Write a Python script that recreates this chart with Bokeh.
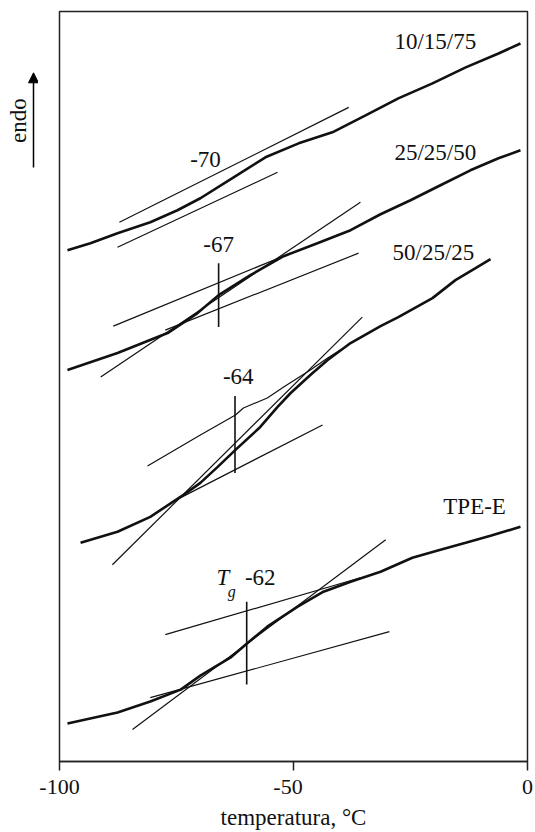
import math
from bokeh.plotting import figure
from bokeh.layouts import row
from bokeh.models import Label, Arrow, NormalHead, FixedTicker, Range1d
from bokeh.core.properties import value
from bokeh.embed import file_html
from bokeh.resources import INLINE

# ---- data: temperature (°C) vs heat flow (arb. units, endo up) ----
t_10_15_75 = [-98.3, -93.4, -87.6, -80.6, -74.8, -69.9, -62.8, -56.0, -48.9, -41.7, -34.6, -27.6, -20.3, -13.2, -6.2, -1.5]
h_10_15_75 = [51.2, 51.9, 52.9, 54.0, 55.2, 56.4, 58.5, 60.5, 61.9, 63.0, 64.7, 66.4, 67.9, 69.5, 70.9, 71.9]

t_25_25_50 = [-98.3, -87.6, -76.9, -70.5, -66.0, -59.2, -52.1, -44.9, -37.8, -31.4, -25.0, -18.6, -12.2, -6.2, -1.5]
h_25_25_50 = [39.2, 40.9, 42.9, 44.9, 46.7, 48.7, 50.6, 51.9, 53.2, 54.8, 56.2, 57.7, 59.2, 60.4, 61.2]

t_50_25_25 = [-95.5, -87.6, -80.6, -73.5, -69.9, -66.2, -62.4, -57.1, -53.4, -50.6, -46.4, -42.7, -37.8, -31.4, -27.6, -20.3, -15.4, -11.1, -7.9]
h_50_25_25 = [21.9, 23.0, 24.5, 26.7, 27.9, 29.5, 31.2, 33.5, 35.5, 36.9, 38.7, 40.2, 41.9, 43.6, 44.5, 46.4, 48.2, 49.4, 50.3]

t_tpe_e = [-98.3, -87.6, -80.6, -74.1, -69.9, -63.5, -60.0, -55.6, -49.1, -43.6, -37.8, -31.4, -24.6, -18.6, -13.2, -7.9, -1.5]
h_tpe_e = [3.8, 4.9, 6.0, 7.2, 8.6, 10.4, 11.8, 13.5, 15.5, 17.0, 18.0, 19.0, 20.4, 21.2, 21.9, 22.6, 23.5]

# tangent / baseline construction lines (start, end)
tan_10_15_75_a_t = [-87.2, -38.2]
tan_10_15_75_a_h = [54.0, 65.5]
tan_10_15_75_b_t = [-87.6, -53.4]
tan_10_15_75_b_h = [51.5, 59.0]

tan_25_25_50_up_t = [-88.5, -50.6]
tan_25_25_50_up_h = [43.6, 50.9]
tan_25_25_50_st_t = [-91.2, -35.7]
tan_25_25_50_st_h = [38.5, 56.0]
tan_25_25_50_lo_t = [-77.4, -36.1]
tan_25_25_50_lo_h = [43.2, 50.9]

tan_50_25_25_up_t = [-81.2, -69.9, -62.4, -60.7, -55.6, -52.1, -46.4, -42.7, -40.0]
tan_50_25_25_up_h = [29.6, 32.7, 34.7, 35.4, 36.4, 37.5, 39.2, 40.4, 41.2]
tan_50_25_25_st_t = [-88.7, -35.3]
tan_50_25_25_st_h = [19.7, 44.5]
tan_50_25_25_lo_t = [-76.3, -43.8]
tan_50_25_25_lo_h = [25.9, 33.7]

tan_tpe_e_up_t = [-77.4, -35.7]
tan_tpe_e_up_h = [12.7, 18.4]
tan_tpe_e_st_t = [-84.4, -30.3]
tan_tpe_e_st_h = [3.2, 22.2]
tan_tpe_e_lo_t = [-80.6, -29.5]
tan_tpe_e_lo_h = [6.4, 13.0]

# Tg marker lines
tg_t = [-66.0, -62.5, -60.0]
tg_h0 = [43.5, 28.9, 7.7]
tg_h1 = [49.9, 36.6, 16.0]

x_ticks = [-100, -50, 0]
x_tick_labels = {-100: "-100", -50: "-50\u2002", 0: "0"}

FONT = "Liberation Serif"
INK = "#111111"
H = 832
SIDE_W = 38

# ---- main plot ----
p = figure(width=535 - SIDE_W, height=H, x_range=Range1d(-100, 0), y_range=Range1d(0, 75.1),
           output_backend="svg", toolbar_location=None,
           min_border_left=59 - SIDE_W, min_border_right=8, min_border_top=11,
           min_border_bottom=H - 11 - 751)
p.background_fill_color = "white"
p.border_fill_color = "white"
p.outline_line_color = "#222222"
p.outline_line_width = 1.5
p.xgrid.visible = False
p.ygrid.visible = False
p.yaxis.visible = False

ax = p.xaxis[0]
ax.ticker = FixedTicker(ticks=x_ticks)
ax.major_label_overrides = x_tick_labels
ax.axis_line_color = "#222222"
ax.axis_line_width = 1.5
ax.major_tick_in = 0
ax.major_tick_out = 9
ax.major_tick_line_width = 1.5
ax.major_tick_line_color = "#222222"
ax.minor_tick_out = 0
ax.minor_tick_in = 0
ax.major_label_text_font = FONT
ax.major_label_text_font_size = "22px"
ax.major_label_text_color = INK
ax.major_label_standoff = 3
ax.axis_label = "temperatura, °C"
ax.axis_label_text_font = FONT
ax.axis_label_text_font_size = "23px"
ax.axis_label_text_font_style = "normal"
ax.axis_label_text_color = INK
ax.axis_label_standoff = 3

for t, h in [(t_10_15_75, h_10_15_75), (t_25_25_50, h_25_25_50),
             (t_50_25_25, h_50_25_25), (t_tpe_e, h_tpe_e)]:
    p.line(t, h, line_color=INK, line_width=2.6)

for t, h in [(tan_10_15_75_a_t, tan_10_15_75_a_h), (tan_10_15_75_b_t, tan_10_15_75_b_h),
             (tan_25_25_50_up_t, tan_25_25_50_up_h), (tan_25_25_50_st_t, tan_25_25_50_st_h),
             (tan_25_25_50_lo_t, tan_25_25_50_lo_h),
             (tan_50_25_25_up_t, tan_50_25_25_up_h), (tan_50_25_25_st_t, tan_50_25_25_st_h),
             (tan_50_25_25_lo_t, tan_50_25_25_lo_h),
             (tan_tpe_e_up_t, tan_tpe_e_up_h), (tan_tpe_e_st_t, tan_tpe_e_st_h),
             (tan_tpe_e_lo_t, tan_tpe_e_lo_h)]:
    p.line(t, h, line_color=INK, line_width=1.2)

p.segment(x0=tg_t, y0=tg_h0, x1=tg_t, y1=tg_h1, line_color=INK, line_width=1.6)

def lab(text, x, y, size="23px", style="normal"):
    p.add_layout(Label(x=x, y=y, text=text, text_font=FONT, text_font_size=size,
                       text_font_style=style, text_color=INK, text_align="center",
                       text_baseline="middle"))

lab("10/15/75", -19.7, 72.1)
lab("25/25/50", -19.7, 61.0)
lab("50/25/25", -20.1, 51.0)
lab("TPE-E", -11.3, 25.5)
lab("-70", -68.8, 60.3)
lab("-67", -66.0, 51.8)
lab("-64", -61.8, 38.6)
lab("-62", -57.1, 18.4)
lab("T", -65.1, 18.4, style="italic")
lab("g", -63.2, 17.0, size="16px", style="italic")

# ---- left strip: "endo" caption with arrow (page pixel coordinates) ----
side = figure(width=SIDE_W, height=H, x_range=Range1d(0, SIDE_W), y_range=Range1d(H, 0),
              output_backend="svg", toolbar_location=None,
              min_border_left=0, min_border_right=0, min_border_top=0, min_border_bottom=0)
side.axis.visible = False
side.xgrid.visible = False
side.ygrid.visible = False
side.outline_line_color = None
side.background_fill_color = "white"
side.border_fill_color = "white"
side.text(x=[18], y=[121], text=["endo"], angle=math.pi / 2, text_font=value(FONT),
          text_font_size="23px", text_color=INK, text_align="center", text_baseline="middle")
side.add_layout(Arrow(end=NormalHead(size=10, fill_color="black", line_color="black", line_width=1),
                      x_start=33, y_start=173, x_end=33, y_end=68,
                      line_color="black", line_width=1.5))

layout = row(side, p)
open("out.html", "w").write(file_html(layout, INLINE))
